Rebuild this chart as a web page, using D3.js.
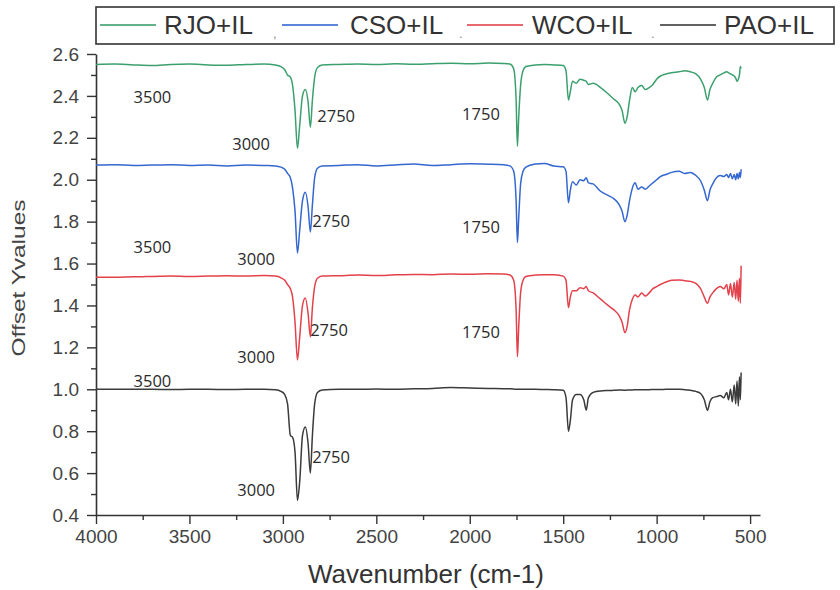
<!DOCTYPE html>
<html>
<head>
<meta charset="utf-8">
<script src="https://cdn.jsdelivr.net/npm/d3@7"></script>
<style>
  html, body { margin: 0; padding: 0; background: #fff; }
  svg { display: block; font-family: Arial, "Liberation Sans", sans-serif; }
</style>
</head>
<body>
<svg id="chart" width="840" height="590"></svg>
<script>
// FTIR spectra, offset traces
const wavenumbers = [
  4000, 3900, 3800, 3700, 3600, 3500, 3400, 3300, 3200, 3100, 3040, 3010, 2990, 2975, 2960, 2948, 2935, 2922,
  2910, 2895, 2880, 2865, 2853, 2842, 2830, 2815, 2790, 2700, 2600, 2500, 2400, 2300, 2200, 2100, 2000, 1900,
  1820, 1785, 1765, 1752, 1745, 1738, 1728, 1715, 1700, 1650, 1600, 1550, 1500, 1485, 1472, 1462, 1450, 1430,
  1410, 1390, 1377, 1365, 1340, 1300, 1260, 1230, 1200, 1185, 1170, 1158, 1145, 1130, 1115, 1100, 1080, 1060,
  1040, 1020, 1000, 980, 950, 920, 880, 850, 820, 790, 765, 745, 728, 715, 700, 680, 660, 640, 625, 615,
  605, 595, 585, 577, 570, 563, 557, 552, 548,
]

const rjo = [
  2.550, 2.552, 2.548, 2.545, 2.550, 2.552, 2.548, 2.546, 2.550, 2.552, 2.548, 2.540, 2.525, 2.500, 2.490, 2.450, 2.330, 2.150,
  2.260, 2.400, 2.430, 2.370, 2.250, 2.380, 2.490, 2.535, 2.548, 2.550, 2.552, 2.550, 2.553, 2.551, 2.554, 2.556, 2.553, 2.557,
  2.555, 2.552, 2.530, 2.380, 2.160, 2.300, 2.450, 2.520, 2.540, 2.548, 2.550, 2.548, 2.545, 2.520, 2.380, 2.420, 2.470, 2.460,
  2.480, 2.475, 2.470, 2.455, 2.460, 2.440, 2.410, 2.385, 2.360, 2.330, 2.270, 2.300, 2.380, 2.440, 2.420, 2.440, 2.450, 2.430,
  2.440, 2.455, 2.480, 2.495, 2.505, 2.510, 2.515, 2.520, 2.515, 2.505, 2.480, 2.440, 2.380, 2.430, 2.460, 2.490, 2.500, 2.510, 2.515, 2.510,
  2.505, 2.500, 2.495, 2.485, 2.470, 2.480, 2.500, 2.540, 2.530,
]

const cso = [
  2.070, 2.072, 2.068, 2.070, 2.072, 2.068, 2.070, 2.066, 2.070, 2.068, 2.066, 2.060, 2.050, 2.030, 2.010, 1.960, 1.850, 1.650,
  1.760, 1.900, 1.940, 1.870, 1.750, 1.880, 2.010, 2.055, 2.066, 2.068, 2.072, 2.066, 2.070, 2.075, 2.068, 2.072, 2.076, 2.074,
  2.071, 2.066, 2.040, 1.900, 1.700, 1.820, 1.980, 2.040, 2.060, 2.075, 2.078, 2.065, 2.062, 2.040, 1.890, 1.950, 1.990, 1.975,
  2.000, 1.995, 2.010, 1.985, 1.980, 1.945, 1.925, 1.910, 1.880, 1.850, 1.800, 1.830, 1.900, 1.960, 1.985, 1.955, 1.965, 1.955,
  1.970, 1.985, 2.000, 2.015, 2.025, 2.035, 2.040, 2.030, 2.035, 2.020, 1.995, 1.950, 1.900, 1.950, 1.980, 2.010, 2.020, 2.015, 2.025, 2.010,
  2.030, 2.005, 2.025, 2.000, 2.030, 2.005, 2.035, 2.010, 2.050,
]

const wco = [
  1.535, 1.535, 1.537, 1.538, 1.540, 1.538, 1.540, 1.542, 1.540, 1.543, 1.540, 1.532, 1.520, 1.500, 1.480, 1.440, 1.320, 1.140,
  1.250, 1.400, 1.435, 1.360, 1.250, 1.390, 1.490, 1.530, 1.540, 1.542, 1.545, 1.543, 1.546, 1.548, 1.547, 1.550, 1.549, 1.551,
  1.550, 1.545, 1.520, 1.380, 1.155, 1.300, 1.460, 1.520, 1.538, 1.545, 1.547, 1.546, 1.540, 1.520, 1.390, 1.440, 1.470, 1.470,
  1.485, 1.480, 1.490, 1.470, 1.460, 1.430, 1.400, 1.380, 1.350, 1.320, 1.270, 1.300, 1.380, 1.430, 1.450, 1.440, 1.460, 1.445,
  1.460, 1.480, 1.490, 1.500, 1.512, 1.520, 1.522, 1.518, 1.515, 1.505, 1.480, 1.440, 1.410, 1.440, 1.460, 1.480, 1.490, 1.480, 1.500, 1.450,
  1.505, 1.440, 1.510, 1.430, 1.520, 1.420, 1.530, 1.410, 1.590,
]

const pao = [
  1.000, 1.000, 1.000, 1.000, 0.999, 1.000, 1.000, 0.999, 1.000, 1.000, 0.998, 0.990, 0.975, 0.930, 0.780, 0.770, 0.700, 0.470,
  0.560, 0.780, 0.820, 0.740, 0.600, 0.780, 0.930, 0.985, 0.997, 1.000, 1.000, 1.001, 1.000, 1.002, 1.004, 1.008, 1.006, 1.004,
  1.003, 1.002, 1.001, 1.000, 1.000, 1.000, 1.000, 1.000, 1.000, 1.000, 0.999, 0.998, 0.995, 0.960, 0.800, 0.850, 0.950, 0.975,
  0.975, 0.950, 0.900, 0.960, 0.985, 0.992, 0.994, 0.995, 0.996, 0.996, 0.995, 0.996, 0.997, 0.997, 0.998, 0.998, 0.998, 0.998,
  0.998, 0.999, 0.999, 0.999, 1.000, 1.000, 1.000, 0.998, 0.995, 0.990, 0.980, 0.950, 0.900, 0.940, 0.960, 0.965, 0.970, 0.960, 0.985, 0.950,
  1.000, 0.940, 1.020, 0.930, 1.040, 0.920, 1.060, 0.950, 1.080,
]

const seriesNames = ["RJO+IL", "CSO+IL", "WCO+IL", "PAO+IL"]
const seriesColors = ["#3c9f6e", "#3467cf", "#e3414b", "#3b3b3b"]

const xTicks = [4000, 3500, 3000, 2500, 2000, 1500, 1000, 500]
const xMinorTicks = [3750, 3250, 2750, 2250, 1750, 1250, 750]
const yTicks = [0.4, 0.6, 0.8, 1.0, 1.2, 1.4, 1.6, 1.8, 2.0, 2.2, 2.4, 2.6]
const yMinorTicks = [0.5, 0.7, 0.9, 1.1, 1.3, 1.5, 1.7, 1.9, 2.1, 2.3, 2.5]

// peak annotations: text, anchor wavenumber, anchor y value
const peakText = ["3500", "3000", "2750", "1750", "3500", "3000", "2750", "1750", "3500", "3000", "2750", "1750", "3000", "2750"]
const peakW = [3799, 3271, 2816, 2041, 3799, 3244, 2843, 2041, 3799, 3244, 2854, 2041, 3244, 2843]
const peakV = [2.366, 2.142, 2.275, 2.285, 1.650, 1.593, 1.774, 1.746, 1.010, 1.125, 1.254, 1.244, 0.490, 0.648]

const svg = d3.select("#chart")

const x = d3.scaleLinear().domain([4000, 447]).range([96, 760])
const y = d3.scaleLinear().domain([0.4, 2.6]).range([515, 54])

const styleAxis = (g) => {
  g.select(".domain").attr("stroke", "#333").attr("stroke-width", 1.6)
  g.selectAll(".tick line").attr("stroke", "#333").attr("stroke-width", 1.4)
  g.selectAll("text").attr("font-size", 19).attr("fill", "#444").attr("font-family", "Arial, 'Liberation Sans', sans-serif")
}

// minor ticks first, then the labelled axes on top
svg.append("g")
  .attr("transform", `translate(0,${y(0.4)})`)
  .call(d3.axisBottom(x).tickValues(xMinorTicks).tickSize(5).tickSizeOuter(0).tickFormat(""))
  .call((g) => { styleAxis(g); g.select(".domain").remove() })

svg.append("g")
  .attr("transform", `translate(${x(4000)},0)`)
  .call(d3.axisLeft(y).tickValues(yMinorTicks).tickSize(5).tickSizeOuter(0).tickFormat(""))
  .call((g) => { styleAxis(g); g.select(".domain").remove() })

svg.append("g")
  .attr("transform", `translate(0,${y(0.4)})`)
  .call(d3.axisBottom(x).tickValues(xTicks).tickSize(9).tickSizeOuter(0).tickPadding(6).tickFormat(d3.format("d")))
  .call(styleAxis)

svg.append("g")
  .attr("transform", `translate(${x(4000)},0)`)
  .call(d3.axisLeft(y).tickValues(yTicks).tickSize(9).tickSizeOuter(0).tickPadding(8).tickFormat(d3.format(".1f")))
  .call(styleAxis)

// spectra
const allSeries = [rjo, cso, wco, pao]
const line = d3.line()
  .x((d, i) => x(wavenumbers[i]))
  .y((d) => y(d))
  .curve(d3.curveMonotoneX)

svg.append("g")
  .selectAll("path")
  .data(allSeries)
  .join("path")
  .attr("fill", "none")
  .attr("stroke", (d, i) => seriesColors[i])
  .attr("stroke-width", 1.5)
  .attr("stroke-linejoin", "round")
  .attr("d", line)

// peak labels
svg.append("g")
  .selectAll("text")
  .data(peakText)
  .join("text")
  .attr("x", (d, i) => x(peakW[i]))
  .attr("y", (d, i) => y(peakV[i]))
  .attr("font-family", "'Open Sans', sans-serif")
  .attr("font-size", 16.5)
  .attr("fill", "#2a2a2a")
  .text((d) => d)

// legend box across the top
const legend = svg.append("g")
legend.append("rect")
  .attr("x", 96).attr("y", 7).attr("width", 738).attr("height", 37)
  .attr("fill", "none").attr("stroke", "#333").attr("stroke-width", 1.6)

const legendLineX = [100, 282, 467, 660]
const legendTextX = [164, 350, 532, 724]
seriesNames.forEach((name, i) => {
  legend.append("line")
    .attr("x1", legendLineX[i]).attr("x2", legendLineX[i] + 56)
    .attr("y1", 25).attr("y2", 25)
    .attr("stroke", seriesColors[i]).attr("stroke-width", 2).attr("stroke-opacity", 0.8)
  legend.append("text")
    .attr("x", legendTextX[i]).attr("y", 34)
    .attr("font-size", 26).attr("fill", "#333")
    .text(name)
})
// stray separators from the source figure
const sepX = [273, 459, 651]
const sepText = [",", ".", "."]
sepX.forEach((sx, i) => {
  legend.append("text").attr("x", sx).attr("y", 38).attr("font-size", 13).attr("fill", "#888").text(sepText[i])
})

// axis titles
svg.append("text")
  .attr("x", 426).attr("y", 583)
  .attr("text-anchor", "middle")
  .attr("font-size", 26).attr("fill", "#333")
  .text("Wavenumber (cm-1)")

svg.append("text")
  .attr("transform", "translate(25,278) rotate(-90)")
  .attr("text-anchor", "middle")
  .attr("font-size", 19).attr("fill", "#444")
  .attr("textLength", 157).attr("lengthAdjust", "spacingAndGlyphs")
  .text("Offset Yvalues")
</script>
</body>
</html>
